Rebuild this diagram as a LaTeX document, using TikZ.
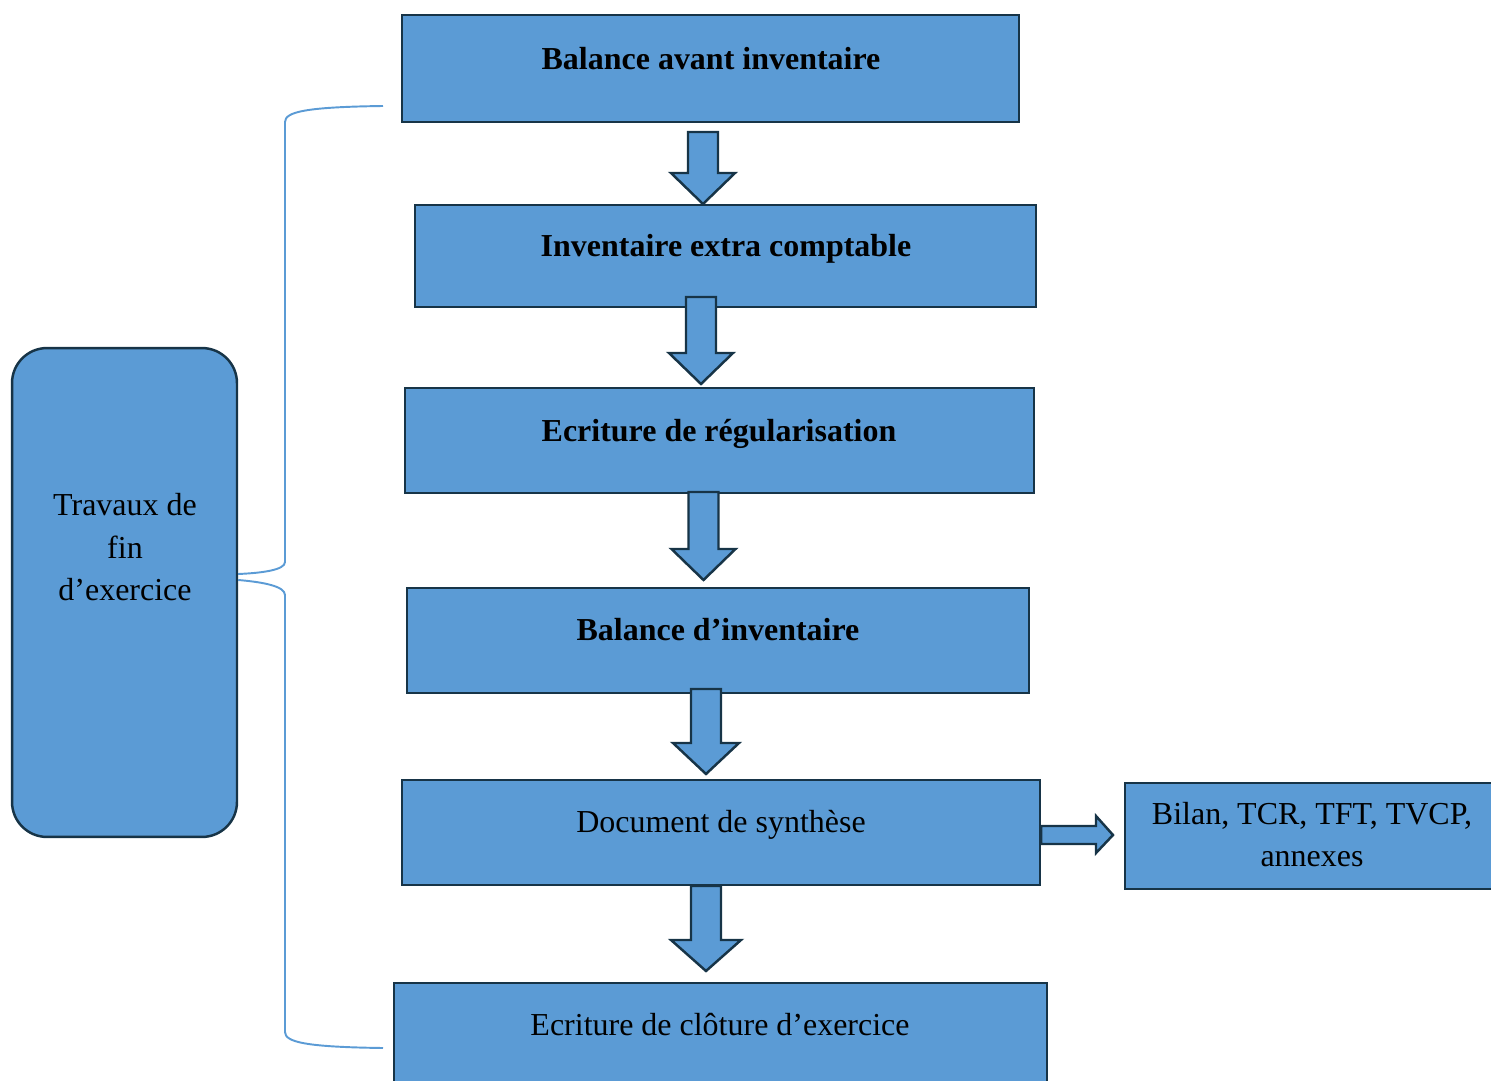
\documentclass[tikz,border=0pt]{standalone}
\usepackage{fontspec}
\setmainfont{Liberation Serif}
\usetikzlibrary{positioning}
\definecolor{bleu}{HTML}{5B9BD5}
\definecolor{bord}{HTML}{173447}
\tikzset{
  boite/.style={draw=bord,fill=bleu,line width=1.4pt,inner sep=0pt},
  titre/.style={font=\fontsize{18.2}{22}\selectfont\bfseries,text depth=0pt},
  texte/.style={font=\fontsize{18.2}{24}\selectfont,align=center,text depth=0pt},
  fleche/.style={draw=bord,fill=bleu,line width=1.4pt,line join=miter},
  accolade/.style={draw=bleu,line width=1.1pt}
}
% fleche vers le bas : x, haut, pointe, demi-largeur de la pointe
\newcommand{\flechebas}[4]{%
  \draw[fleche](#1-15,#2)--(#1+15,#2)--(#1+15,#3-31)--(#1+#4,#3-31)--(#1,#3)--(#1-#4,#3-31)--(#1-15,#3-31)--cycle;}
\begin{document}
\begin{tikzpicture}[x={0.02cm},y={-0.02cm}]
\useasboundingbox(0,0)rectangle(1491,1081);
\clip(0,0)rectangle(1491,1081);
% boites
\node[boite,minimum width=12.34cm,minimum height=2.14cm](b1)at(710.5,68.5){};
\node[boite,minimum width=12.42cm,minimum height=2.04cm](b2)at(725.5,256){};
\node[boite,minimum width=12.58cm,minimum height=2.10cm](b3)at(719.5,440.5){};
\node[boite,minimum width=12.44cm,minimum height=2.10cm](b4)at(718,640.5){};
\node[boite,minimum width=12.76cm,minimum height=2.10cm](b5)at(721,832.5){};
\node[boite,minimum width=13.06cm,minimum height=2.34cm](b6)at(720.5,1041.5){};
\node[boite,minimum width=7.7cm,minimum height=2.12cm](b7)at(1317.5,836){};
\node[boite,rounded corners=0.7cm,minimum width=4.5cm,minimum height=9.78cm](tr)at(124.5,592.5){};
% textes
\node[titre](t1)at(711,58){Balance avant inventaire};
\node[titre](t2)at(726,245){Inventaire extra comptable};
\node[titre](t3)at(719,430){Ecriture de régularisation};
\node[titre](t4)at(718,629){Balance d’inventaire};
\node[texte](t5)at(721,821){Document de synthèse};
\node[texte](t6)at(720,1024){Ecriture de clôture d’exercice};
\node[texte](t7)at(1312,834.5){Bilan, TCR, TFT, TVCP,\\annexes};
\node[texte](ttr)at(125,547){Travaux de\\fin\\d’exercice};
% fleches
\flechebas{703}{132}{204}{32}
\flechebas{701}{297}{384}{32}
\flechebas{703.5}{492}{580}{32}
\flechebas{706}{689}{774}{33}
\flechebas{706}{886}{971}{35}
\draw[fleche](b5.east|-0,826)--(1096,826)--(1096,816)--(1113,835)--(1096,853)--(1096,844)--(b5.east|-0,844)--cycle;
% accolade
\draw[accolade](383,106)..controls(305,107)and(285,112)..(285,122)--(285,562)..controls(285,570)and(262,573)..(tr.east|-0,574);
\draw[accolade](tr.east|-0,580)..controls(262,582)and(285,586)..(285,595)--(285,1032)..controls(285,1042)and(305,1047)..(383,1048);
\end{tikzpicture}
\end{document}
